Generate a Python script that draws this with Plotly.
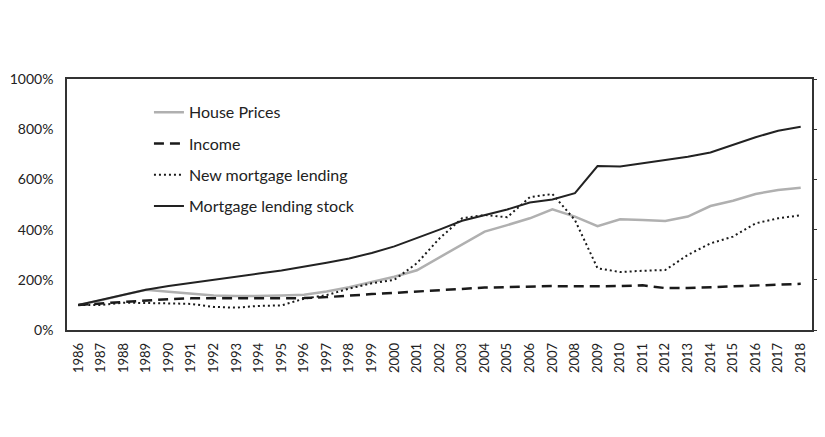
import plotly.graph_objects as go

years = list(range(1986, 2019))

house_prices = [100, 118, 140, 160, 152, 144, 137, 135, 135, 137, 140, 153, 170, 192, 212,
                238, 290, 342, 392, 418, 445, 481, 452, 414, 441, 438, 434, 452, 494, 515,
                542, 558, 567]
income = [100, 106, 113, 118, 123, 126, 127, 127, 126, 126, 127, 131, 138, 143, 148,
          153, 160, 165, 169, 171, 173, 175, 174, 173, 175, 178, 167, 167, 170, 174,
          176, 180, 184]
new_lending = [100, 100, 109, 109, 106, 104, 92, 89, 96, 98, 125, 139, 165, 186, 200,
               266, 365, 445, 458, 449, 529, 542, 438, 246, 231, 236, 239, 299, 345, 372,
               425, 445, 457]
lending_stock = [100, 120, 140, 160, 175, 188, 200, 212, 225, 237, 252, 268, 285, 307, 333,
                 365, 400, 435, 457, 480, 508, 520, 545, 653, 651, 664, 675, 690, 707, 737,
                 768, 794, 810]

y_ticks = [0, 200, 400, 600, 800, 1000]

# (name, values, line style, y axis)
series = [
    ("House Prices", house_prices, dict(color="#b0b0b0", width=2.5), "y"),
    ("Income", income, dict(color="#1a1a1a", width=2.5, dash="10px,6px"), "y"),
    ("New mortgage lending", new_lending, dict(color="#1a1a1a", width=2, dash="2px,3px"), "y"),
    # drawn on the right-hand axis (same range) so that axis gets rendered with its ticks
    ("Mortgage lending stock", lending_stock, dict(color="#222222", width=2), "y2"),
]

fig = go.Figure()
for i, (name, vals, line, yax) in enumerate(series):
    fig.add_trace(go.Scatter(x=years, y=vals, name=name, mode="lines", line=line,
                             yaxis=yax, legendgroup=str(i)))

font_family = "Lato, Open Sans, sans-serif"

# the page body has an 8px margin, so margins are shifted by 8px
fig.update_layout(
    width=825,
    height=437,
    margin=dict(l=59, r=21, t=71, b=115),
    paper_bgcolor="white",
    plot_bgcolor="white",
    font=dict(family=font_family, size=16, color="#222222"),
    showlegend=True,
    legend=dict(
        x=0.11, y=0.935, xanchor="left", yanchor="top",
        font=dict(family=font_family, size=16, color="#222222"),
        tracegroupgap=7.5,
        bgcolor="rgba(0,0,0,0)",
    ),
    xaxis=dict(
        range=[1985.5, 2018.5],
        tickvals=years,
        ticktext=[str(y) for y in years],
        tickangle=-90,
        showgrid=False,
        zeroline=False,
        showline=True,
        linecolor="#333333",
        linewidth=1.5,
        mirror=True,
        ticks="",
        ticklabelstandoff=6,
        tickfont=dict(size=13),
        automargin=False,
    ),
    yaxis=dict(
        range=[0, 1000],
        tickvals=y_ticks,
        ticktext=[f"{v}%" for v in y_ticks],
        showgrid=False,
        zeroline=False,
        showline=True,
        linecolor="#333333",
        linewidth=1.5,
        mirror=True,
        ticks="",
        ticklabelstandoff=9,
        tickfont=dict(size=14),
        automargin=False,
    ),
    yaxis2=dict(
        range=[0, 1000],
        tickvals=y_ticks,
        overlaying="y",
        side="right",
        showgrid=False,
        zeroline=False,
        showline=True,
        linecolor="#333333",
        linewidth=1.5,
        ticks="outside",
        ticklen=5,
        tickcolor="#333333",
        showticklabels=False,
        automargin=False,
    ),
)

fig.write_html("out.html")
